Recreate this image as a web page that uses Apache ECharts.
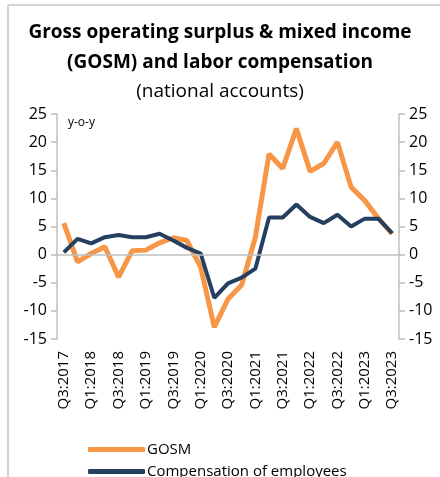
<!DOCTYPE html>
<html>
<head>
<meta charset="utf-8">
<script src="https://cdn.jsdelivr.net/npm/echarts@6/dist/echarts.min.js"></script>
<style>
  html, body { margin: 0; padding: 0; background: #fff; }
  #chart { width: 440px; height: 477px; }
</style>
</head>
<body>
<div id="chart"></div>
<script>
// quarters, Q3:2017 .. Q3:2023
var quarters = [
     'Q3:2017', 'Q4:2017', 'Q1:2018', 'Q2:2018', 'Q3:2018', 'Q4:2018',
     'Q1:2019', 'Q2:2019', 'Q3:2019', 'Q4:2019', 'Q1:2020', 'Q2:2020',
     'Q3:2020', 'Q4:2020', 'Q1:2021', 'Q2:2021', 'Q3:2021', 'Q4:2021',
     'Q1:2022', 'Q2:2022', 'Q3:2022', 'Q4:2022', 'Q1:2023', 'Q2:2023',
     'Q3:2023'
];
// y-o-y %
var gosm = [5.6, -1.3, 0.2, 1.4, -4.0, 0.7, 0.8, 2.1, 3.0, 2.5, -2.2, -12.9,
     -7.9, -5.4, 3.1, 17.9, 15.3, 22.4, 14.8, 16.2, 20.0, 12.0, 9.6, 6.4, 3.7];
var compensation = [0.4, 2.8, 2.0, 3.1, 3.5, 3.1, 3.1, 3.7, 2.5, 1.2, 0.2, -7.7,
     -5.1, -4.1, -2.5, 6.6, 6.6, 8.9, 6.7, 5.6, 7.1, 5.0, 6.4, 6.4, 3.8];
var seriesNames = ['GOSM', 'Compensation of employees'];

var chart = echarts.init(document.getElementById('chart'));
var font = 'Open Sans';
var axisGray = '#bfbfbf';

function yAxisCfg(pos) {
     return {
          type: 'value',
          position: pos,
          min: -15,
          max: 25,
          interval: 5,
          axisLine: { show: true, lineStyle: { color: axisGray, width: 1.5 } },
          axisTick: { show: true, inside: false, length: 6, lineStyle: { color: axisGray, width: 1.5 } },
          splitLine: { show: false },
          axisLabel: { fontFamily: font, fontSize: 16, color: '#000', margin: 10 }
     };
}

// one legend per series so they stack like the original
function legendCfg(name, top) {
     return {
          left: 83,
          top: top,
          itemWidth: 57,
          itemHeight: 5,
          icon: 'roundRect',
          textStyle: { fontFamily: font, fontSize: 15, color: '#000', padding: [0, 0, 0, -3] },
          data: [name]
     };
}

var option = {
     animation: false,
     title: {
          text: 'Gross operating surplus & mixed income\n(GOSM) and labor compensation',
          subtext: '(national accounts)',
          left: 'center',
          top: 13,
          itemGap: 4,
          textStyle: { fontFamily: font, fontSize: 19, fontWeight: 'bold', color: '#000', lineHeight: 30 },
          subtextStyle: { fontFamily: font, fontSize: 19, color: '#000' }
     },
     graphic: [
          { type: 'line', shape: { x1: 8, y1: 5, x2: 440, y2: 5 }, style: { stroke: '#d4d4d4', lineWidth: 2 } },
          { type: 'line', shape: { x1: 8, y1: 5, x2: 8, y2: 477 }, style: { stroke: '#d4d4d4', lineWidth: 2 } },
          { type: 'text', left: 68, top: 117, style: { text: 'y-o-y', fontFamily: font, fontSize: 12, fill: '#000' } }
     ],
     legend: [legendCfg(seriesNames[0], 437), legendCfg(seriesNames[1], 459)],
     grid: { left: 57, right: 41, top: 114, bottom: 138 },
     xAxis: {
          type: 'category',
          data: quarters,
          boundaryGap: true,
          axisLine: { show: false },
          axisTick: { show: false },
          axisLabel: { rotate: 90, interval: 1, fontFamily: font, fontSize: 15, color: '#000', margin: 12 }
     },
     yAxis: [yAxisCfg('left'), yAxisCfg('right')],
     series: [
          {
               name: seriesNames[0],
               type: 'line',
               data: gosm,
               symbol: 'none',
               lineStyle: { color: '#f79646', width: 5 },
               itemStyle: { color: '#f79646' },
               markLine: {
                    silent: true,
                    symbol: 'none',
                    label: { show: false },
                    lineStyle: { color: axisGray, width: 1.5, type: 'solid' },
                    data: [{ yAxis: 0 }]
               },
               z: 2
          },
          {
               name: seriesNames[1],
               type: 'line',
               data: compensation,
               symbol: 'none',
               lineStyle: { color: '#243f60', width: 4 },
               itemStyle: { color: '#243f60' },
               z: 3
          }
     ]
};
chart.setOption(option);
</script>
</body>
</html>
